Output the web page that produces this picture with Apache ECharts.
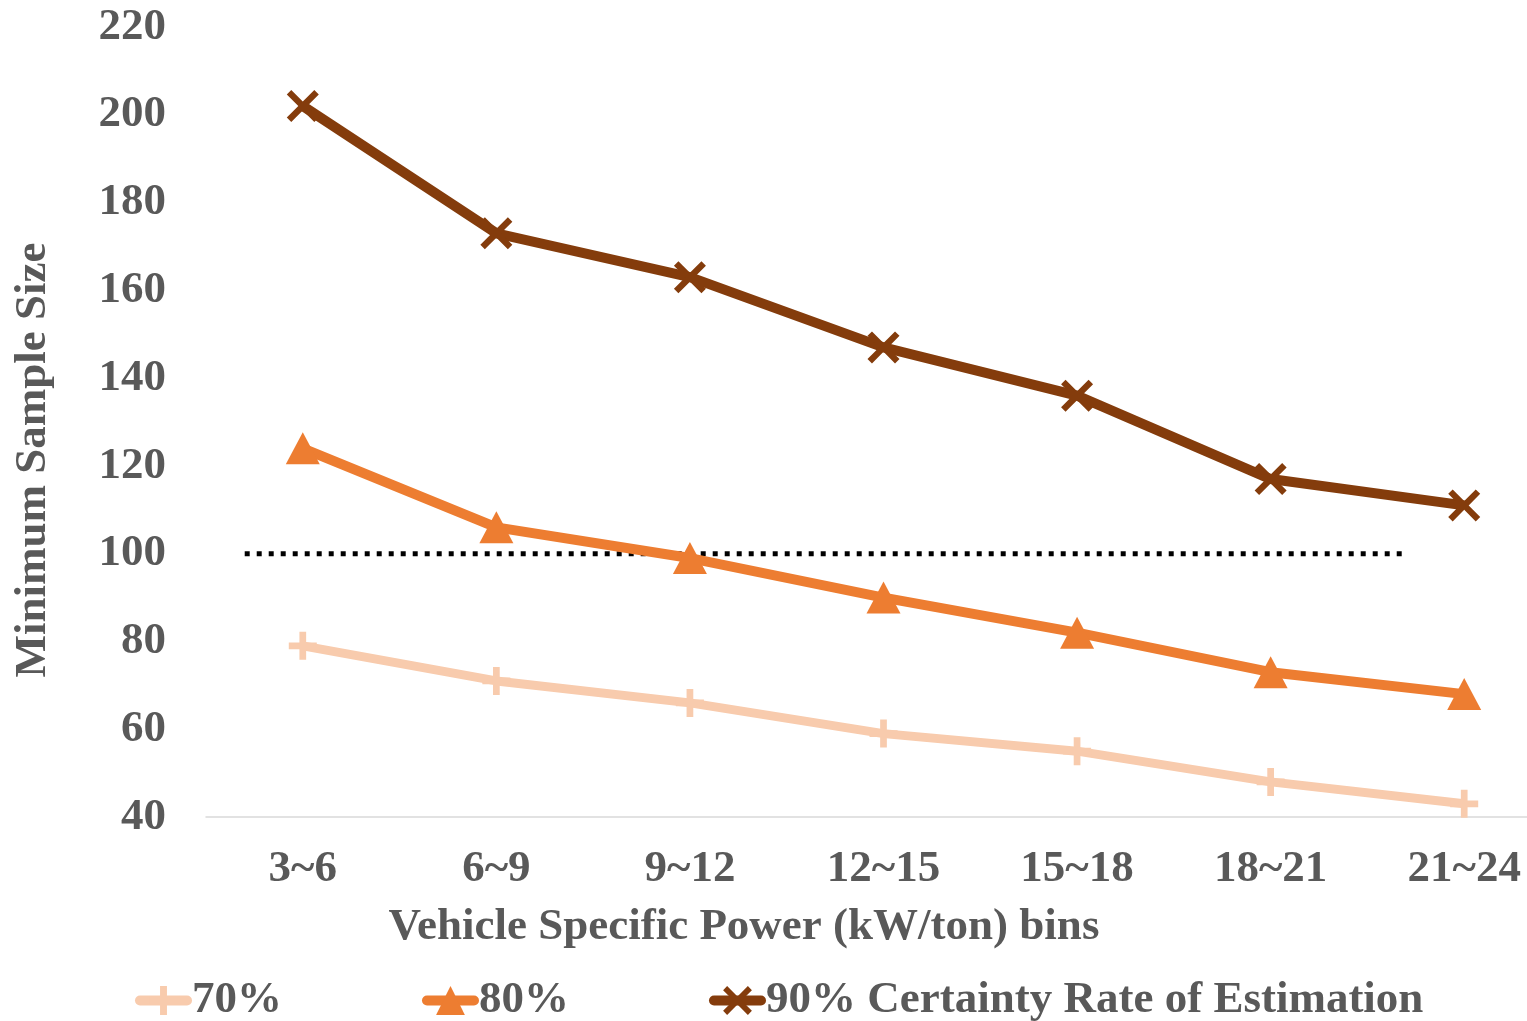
<!DOCTYPE html>
<html>
<head>
<meta charset="utf-8">
<script src="https://cdn.jsdelivr.net/npm/echarts@6/dist/echarts.min.js"></script>
<style>
html,body{margin:0;padding:0;background:#fff;overflow:hidden;width:1527px;height:1021px;}
#chart{width:1561px;height:1021px;}
</style>
</head>
<body>
<div id="chart"></div>
<script>
// ---- data ----
const categories = ['3~6', '6~9', '9~12', '12~15', '15~18', '18~21', '21~24'];
const series70 = [79, 71, 66, 59, 55, 48, 43];
const series80 = [124, 106, 99, 90, 82, 73, 68];
const series90 = [202, 173, 163, 147, 136, 117, 111];
const seriesNames = ['70%', '80%', '90% Certainty Rate of Estimation'];
const refLineX = [-0.3, 5.68];   // in category-index units
const refLineValue = 100;
const yTicks = { min: 40, max: 220, interval: 20 };
const xAxisTitle = 'Vehicle Specific Power (kW/ton) bins';
const yAxisTitle = 'Minimum Sample Size';

// ---- style ----
const FONT = "'Liberation Serif','Times New Roman',serif";
const TXT = '#595959';
const C70 = '#F8CBAD', C80 = '#ED7D31', C90 = '#843C0C';
const crossPath = 'path://M1.4,0 L5,3.6 L8.6,0 L10,1.4 L6.4,5 L10,8.6 L8.6,10 L5,6.4 L1.4,10 L0,8.6 L3.6,5 L0,1.4 Z';
const plusPath = 'path://M3.8,0 H6.2 V3.8 H10 V6.2 H6.2 V10 H3.8 V6.2 H0 V3.8 H3.8 Z';

const chart = echarts.init(document.getElementById('chart'), null, {renderer: 'canvas'});
chart.setOption({
  animation: false,
  backgroundColor: '#fff',
  grid: { left: 206, top: 27, width: 1355, height: 790, containLabel: false },
  xAxis: [{
    type: 'category',
    data: categories,
    boundaryGap: true,
    axisLine: { show: true, lineStyle: { color: '#D9D9D9', width: 1.5 } },
    axisTick: { show: false },
    axisLabel: { color: TXT, fontFamily: FONT, fontWeight: 'bold', fontSize: 45, margin: 30 },
    splitLine: { show: false }
  }, {
    type: 'value',
    min: -0.5, max: 6.5,
    show: false
  }],
  yAxis: {
    type: 'value',
    min: yTicks.min, max: yTicks.max, interval: yTicks.interval,
    axisLine: { show: false },
    axisTick: { show: false },
    splitLine: { show: false },
    axisLabel: { color: TXT, fontFamily: FONT, fontWeight: 'bold', fontSize: 45, margin: 40 }
  },
  legend: {
    data: seriesNames,
    left: 130,
    top: 973,
    itemGap: 140,
    itemWidth: 47,
    itemHeight: 36,
    lineStyle: { width: 10, cap: 'round' },
    textStyle: { color: TXT, fontFamily: FONT, fontWeight: 'bold', fontSize: 45 }
  },
  graphic: [{
    type: 'text',
    x: 744, y: 927,
    style: { text: xAxisTitle, font: 'bold 45px ' + FONT, fill: TXT, align: 'center', verticalAlign: 'middle' }
  }, {
    type: 'text',
    x: 33, y: 460,
    rotation: Math.PI / 2,
    style: { text: yAxisTitle, font: 'bold 45px ' + FONT, fill: TXT, align: 'center', verticalAlign: 'middle' }
  }],
  series: [{
    name: seriesNames[0],
    type: 'line',
    data: series70,
    symbol: plusPath,
    symbolSize: 28,
    showAllSymbol: true,
    lineStyle: { color: C70, width: 9, join: 'round' },
    itemStyle: { color: C70 },
    z: 3
  }, {
    name: seriesNames[1],
    type: 'line',
    data: series80,
    symbol: 'triangle',
    symbolSize: [34, 32],
    showAllSymbol: true,
    lineStyle: { color: C80, width: 10, join: 'round' },
    itemStyle: { color: C80 },
    z: 4
  }, {
    name: seriesNames[2],
    type: 'line',
    data: series90,
    symbol: crossPath,
    symbolSize: 32,
    showAllSymbol: true,
    lineStyle: { color: C90, width: 10, join: 'round' },
    itemStyle: { color: C90 },
    z: 5
  }, {
    name: 'ref',
    type: 'line',
    xAxisIndex: 1,
    data: refLineX.map(x => [x, refLineValue]),
    symbol: 'none',
    lineStyle: { color: '#000', width: 5, type: [5, 7], cap: 'butt' },
    z: 2
  }]
});
</script>
</body>
</html>
